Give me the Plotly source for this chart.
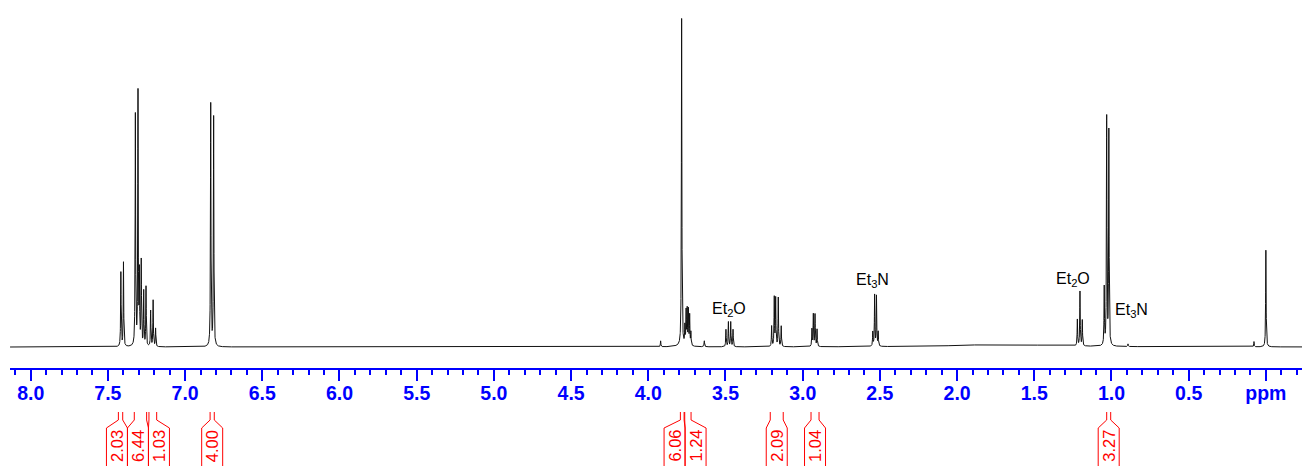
import numpy as np
import plotly.graph_objects as go

# ---------------- data ----------------
peak_ppm = [7.416, 7.399,
            7.322, 7.305, 7.296, 7.284, 7.268, 7.253,
            7.223, 7.207, 7.191,
            6.834, 6.815,
            3.920, 3.784,
            3.763, 3.755, 3.748, 3.740, 3.732, 3.724,
            3.637,
            3.497, 3.481, 3.466, 3.451,
            3.201, 3.184, 3.175, 3.158, 3.139,
            2.940, 2.931, 2.920, 2.907,
            2.546, 2.534, 2.522, 2.511,
            1.221, 1.204, 1.189,
            1.047, 1.031, 1.017,
            0.893, 0.077, 0.000]
peak_height = [0.225, 0.255,
               0.700, 0.765, 0.210, 0.255, 0.165, 0.180,
               0.108, 0.140, 0.055,
               0.735, 0.695,
               0.018, 0.990,
               0.055, 0.100, 0.105, 0.105, 0.090, 0.040,
               0.018,
               0.052, 0.075, 0.075, 0.052,
               0.062, 0.148, 0.145, 0.148, 0.062,
               0.052, 0.097, 0.097, 0.052,
               0.043, 0.155, 0.152, 0.043,
               0.080, 0.165, 0.078,
               0.175, 0.690, 0.650,
               0.008, 0.016, 0.293]
broad_ppm = [1.70, 3.78]
broad_height = [0.008, 0.004]
broad_width = [0.35, 0.04]

solvent_text = ["Et<sub>2</sub>O", "Et<sub>3</sub>N", "Et<sub>2</sub>O", "Et<sub>3</sub>N"]
solvent_ppm = [3.478, 2.545, 1.249, 0.873]
solvent_y = [0.115, 0.203, 0.206, 0.112]

integral_start = [7.432, 7.329, 7.234, 6.838, 3.792, 3.764, 3.210, 2.946, 1.031]
integral_end = [7.404, 7.249, 7.184, 6.811, 3.768, 3.723, 3.126, 2.894, 1.005]
integral_value = ["2.03", "6.44", "1.03", "4.00", "6.06", "1.24", "2.09", "1.04", "3.27"]

major_tickvals = [8.0, 7.5, 7.0, 6.5, 6.0, 5.5, 5.0, 4.5, 4.0, 3.5, 3.0, 2.5, 2.0, 1.5, 1.0, 0.5, 0.0]
major_ticktext = ["8.0", "7.5", "7.0", "6.5", "6.0", "5.5", "5.0", "4.5", "4.0", "3.5",
                  "3.0", "2.5", "2.0", "1.5", "1.0", "0.5", "ppm"]

# ---------------- layout geometry ----------------
W, H = 1305, 466
ML, MR, MT, MB = 10, 3, 10, 98
X_RANGE = [8.134, -0.234]
Y_RANGE = [-0.0636, 1.0212]
plot_w = W - ML - MR
plot_h = H - MT - MB
axis_px = H - MB


def px_to_ppm(x):
    return X_RANGE[0] - (x - ML) / plot_w * (X_RANGE[0] - X_RANGE[1])


def ppm_to_px(p):
    return ML + (X_RANGE[0] - p) / (X_RANGE[0] - X_RANGE[1]) * plot_w


def py_to_paper(y):
    return (axis_px - y) / plot_h


# ---------------- spectrum lineshape ----------------
hwhm = 0.0018
grid = np.arange(X_RANGE[1], X_RANGE[0], 0.0004)
extra = np.concatenate([np.array(peak_ppm) + d for d in (-0.0008, -0.0003, 0.0, 0.0003, 0.0008)])
ppm = np.unique(np.concatenate([grid, extra]))[::-1]
inten = np.zeros_like(ppm)
for p, h in zip(peak_ppm, peak_height):
    inten += h / (1.0 + ((ppm - p) / hwhm) ** 2)
for p, h, w in zip(broad_ppm, broad_height, broad_width):
    inten += h / (1.0 + ((ppm - p) / w) ** 2)

fig = go.Figure()
fig.add_trace(go.Scatter(x=ppm, y=inten, mode="lines",
                         line=dict(color="#111111", width=1), hoverinfo="skip"))

# ---------------- solvent labels ----------------
for t, xp, yv in zip(solvent_text, solvent_ppm, solvent_y):
    fig.add_annotation(x=xp, y=yv, xref="x", yref="y", text=t, showarrow=False,
                       font=dict(family="Liberation Sans", size=16, color="black"),
                       xanchor="center", yanchor="middle")

# ---------------- integrals ----------------
BOX_W = 21.0
centers = [0.5 * (ppm_to_px(s) + ppm_to_px(e)) for s, e in zip(integral_start, integral_end)]
clusters = [[i] for i in range(len(centers))]
changed = True
while changed:
    changed = False
    pos = []
    for c in clusters:
        mid = np.mean([centers[i] for i in c])
        pos.append(mid - BOX_W * len(c) / 2.0)
    for k in range(len(clusters) - 1):
        end_k = pos[k] + BOX_W * len(clusters[k])
        if end_k > pos[k + 1] + 0.01:
            clusters[k] = clusters[k] + clusters[k + 1]
            del clusters[k + 1]
            changed = True
            break
box_left = [0.0] * len(centers)
for c in clusters:
    mid = np.mean([centers[i] for i in c])
    start = mid - BOX_W * len(c) / 2.0
    for j, i in enumerate(c):
        box_left[i] = start + j * BOX_W

y_top, y_k1, y_k2, y_bot = 412, 420, 428, 475
for s, e, v, bl in zip(integral_start, integral_end, integral_value, box_left):
    xs, xe = ppm_to_px(s), ppm_to_px(e)
    br = bl + BOX_W
    pts_l = [(xs, y_top), (xs, y_k1), (bl, y_k2), (bl, y_bot)]
    pts_r = [(xe, y_top), (xe, y_k1), (br, y_k2), (br, y_bot)]
    path = ""
    for pts in (pts_l, pts_r):
        for n, (xx, yy) in enumerate(pts):
            path += ("M" if n == 0 else "L") + f"{px_to_ppm(xx):.5f},{py_to_paper(yy):.5f} "
    fig.add_shape(type="path", path=path.strip(), xref="x", yref="paper",
                  line=dict(color="red", width=1))
    fig.add_annotation(x=px_to_ppm(bl + BOX_W / 2.0), y=py_to_paper(446), xref="x", yref="paper",
                       text=v, textangle=-90, showarrow=False,
                       font=dict(family="Liberation Sans", size=16.5, color="red"),
                       xanchor="center", yanchor="middle")

fig.update_layout(
    width=W, height=H,
    margin=dict(l=ML, r=MR, t=MT, b=MB),
    paper_bgcolor="white", plot_bgcolor="white",
    showlegend=False,
    xaxis=dict(range=X_RANGE, showline=True, linecolor="blue", linewidth=2,
               ticks="outside", ticklen=11, tickwidth=2, tickcolor="blue",
               tickmode="array", tickvals=major_tickvals, ticktext=major_ticktext,
               ticklabelstandoff=-4,
               tickfont=dict(family="Liberation Sans", size=19.5, color="blue", weight="bold"),
               showgrid=False, zeroline=False, fixedrange=True,
               minor=dict(tickmode="linear", tick0=0, dtick=0.1, ticks="outside",
                          ticklen=5, tickwidth=2, tickcolor="blue", showgrid=False)),
    yaxis=dict(range=Y_RANGE, visible=False, showgrid=False, zeroline=False, fixedrange=True),
)

fig.write_html("out.html")
